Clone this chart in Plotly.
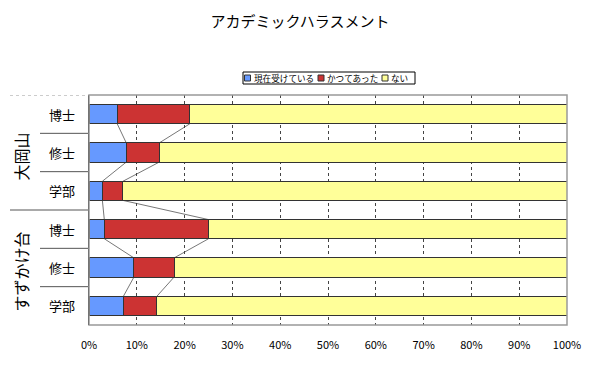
import plotly.graph_objects as go

title = "アカデミックハラスメント"
groups = ["大岡山", "すずかけ台"]
degrees = ["博士", "修士", "学部", "博士", "修士", "学部"]
group_of = [0, 0, 0, 1, 1, 1]
series_names = ["現在受けている", "かつてあった", "ない"]
current = [5.9, 7.8, 2.8, 3.2, 9.4, 7.2]
past = [15.2, 6.9, 4.3, 21.8, 8.4, 7.0]
none_ = [round(100 - c - p, 1) for c, p in zip(current, past)]
colors = ["#6699FF", "#CC3333", "#FFFF99"]
xticks = list(range(0, 101, 10))

FONT = "Noto Sans CJK JP"
L, R, T, B = 89, 567, 95, 325


def px(x):
    return (x - L) / (R - L)


def py(y):
    return (B - y) / (B - T)


ypos = list(range(len(degrees)))
fig = go.Figure()
for name, vals, col in zip(series_names, [current, past, none_], colors):
    fig.add_trace(go.Bar(
        y=ypos, x=vals, name=name, orientation="h", width=0.5,
        marker=dict(color=col, line=dict(color="#333333", width=1)),
        showlegend=False,
    ))

shapes = []
# series lines between consecutive bars
cum1 = current
cum2 = [c + p for c, p in zip(current, past)]
for cum in (cum1, cum2):
    for i in range(len(ypos) - 1):
        shapes.append(dict(type="line", xref="x", yref="y",
                           x0=cum[i], x1=cum[i + 1], y0=ypos[i] + 0.25, y1=ypos[i + 1] - 0.25,
                           line=dict(color="#777777", width=1), layer="below"))
# category dividers on the left
for i in range(len(ypos) - 1):
    boundary = ypos[i] + 0.5
    x0 = px(10) if group_of[i] != group_of[i + 1] else px(40)
    shapes.append(dict(type="line", xref="paper", yref="y", x0=x0, x1=0,
                       y0=boundary, y1=boundary, line=dict(color="#555555", width=1)))
shapes.append(dict(type="line", xref="paper", yref="y", x0=px(10), x1=0,
                   y0=-0.5, y1=-0.5, line=dict(color="#999999", width=1, dash="dot")))
# plot border
shapes.append(dict(type="rect", xref="paper", yref="paper", x0=0, x1=1, y0=0, y1=1,
                   line=dict(color="#999999", width=1.5)))

annotations = []
for i, d in enumerate(degrees):
    annotations.append(dict(xref="paper", yref="y", x=px(62), y=ypos[i], text=d,
                            xanchor="center", yanchor="middle",
                            showarrow=False, font=dict(size=13, color="#000", family=FONT)))
for g, name in enumerate(groups):
    idx = [i for i in ypos if group_of[i] == g]
    yc = sum(idx) / len(idx)
    annotations.append(dict(xref="paper", yref="y", x=px(20), y=yc, text=name, textangle=-90,
                            xanchor="center", yanchor="middle", yshift=-4,
                            showarrow=False, font=dict(size=16, color="#000", family=FONT)))

# legend (box, swatches, labels)
shapes.append(dict(type="rect", xref="paper", yref="paper", x0=px(243), x1=px(415),
                   y0=py(84), y1=py(72), line=dict(color="#000", width=1), fillcolor="white"))
swatch_x = [244.5, 318, 382]
for sx, col, name in zip(swatch_x, colors, series_names):
    shapes.append(dict(type="rect", xref="paper", yref="paper", x0=px(sx), x1=px(sx + 6),
                       y0=py(81), y1=py(75), line=dict(color="#333", width=1), fillcolor=col))
    annotations.append(dict(xref="paper", yref="paper", x=px(sx + 7), y=py(78), text=name,
                            xanchor="left", yanchor="middle", showarrow=False,
                            font=dict(size=8.6, color="#000", family=FONT)))

fig.update_layout(
    width=600, height=372,
    margin=dict(l=L, r=600 - R, t=T, b=372 - B, autoexpand=False),
    paper_bgcolor="white", plot_bgcolor="white",
    barmode="stack",
    title=dict(text=title, x=0.5, xanchor="center", y=1 - 22 / 372, yanchor="middle",
               font=dict(size=15, color="#000", family=FONT)),
    font=dict(family=FONT, color="#000"),
    showlegend=False,
    xaxis=dict(range=[0, 100], tickvals=xticks, ticktext=[f"{t}%" for t in xticks],
               showgrid=True, gridcolor="#444444", griddash="dot", gridwidth=1,
               zeroline=False, ticks="", tickfont=dict(size=11, family=FONT),
               ticklabelstandoff=12, showline=False),
    yaxis=dict(range=[len(ypos) - 0.5, -0.5], showticklabels=False, showgrid=False,
               zeroline=False, showline=True, linecolor="#000", linewidth=1),
    shapes=shapes, annotations=annotations,
)
fig.write_html("out.html", config={"displayModeBar": False},
               post_script="document.body.style.margin='0';")
